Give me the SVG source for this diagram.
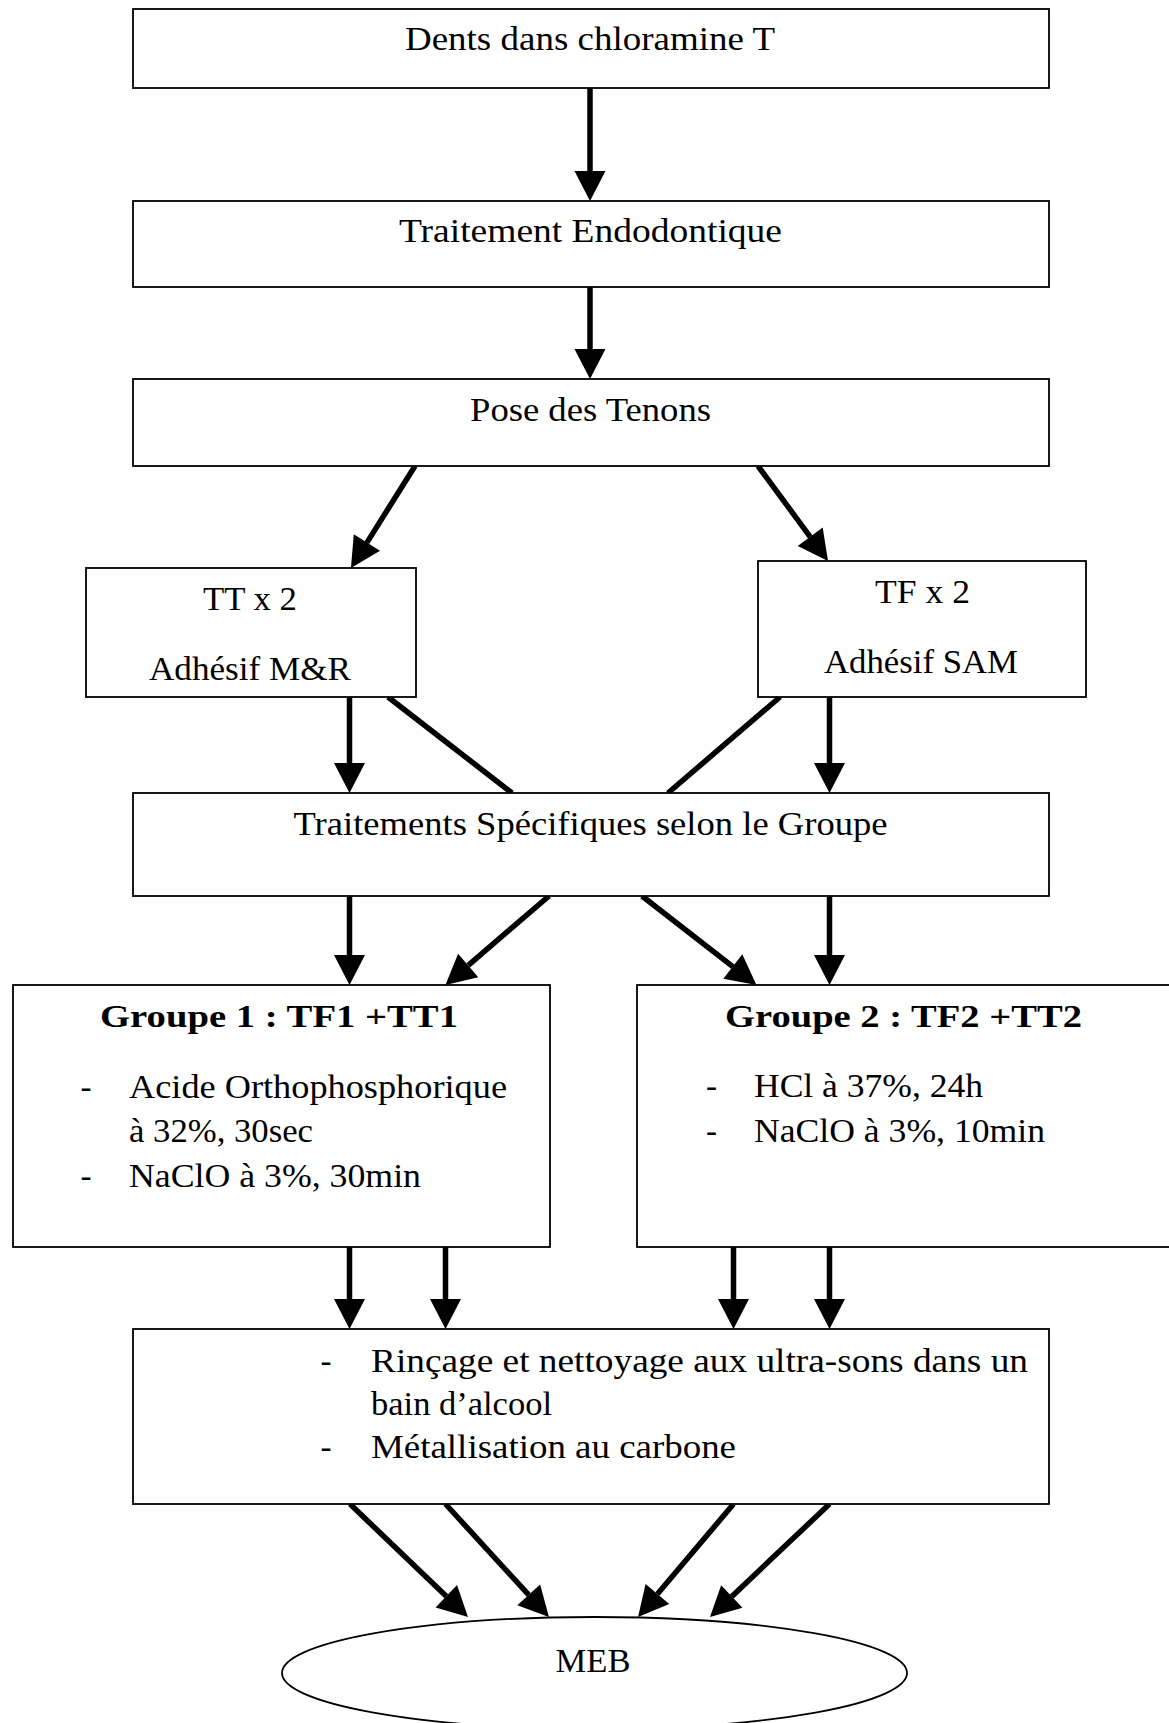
<svg xmlns="http://www.w3.org/2000/svg" width="1169" height="1723" viewBox="0 0 1169 1723">
<defs>
<style>
.box{fill:#fff;stroke:#000;stroke-width:1.8}
.t{font-family:"Liberation Serif","Times New Roman",serif;font-size:33px;fill:#000}
.c{text-anchor:middle}
.b{font-weight:bold;font-size:32px}
.ln{stroke:#000;stroke-width:5.5;fill:none}
.ar{stroke:#000;stroke-width:5.5;fill:none;marker-end:url(#ah)}
</style>
<marker id="ah" markerUnits="userSpaceOnUse" markerWidth="31" markerHeight="31" refX="0" refY="15.5" orient="auto" overflow="visible">
<path d="M0,0 L30,15.5 L0,31 Z" fill="#000"/>
</marker>
</defs>
<rect width="1169" height="1723" fill="#fff"/>

<g id="connectors">
<line class="ar" x1="590" y1="88" x2="590" y2="171"/>
<line class="ar" x1="590" y1="287" x2="590" y2="349"/>
<line class="ar" x1="415" y1="466" x2="366.9" y2="542.6"/>
<line class="ar" x1="758" y1="466" x2="810.2" y2="536.8"/>
<line class="ar" x1="349.5" y1="697" x2="349.5" y2="763"/>
<line class="ln" x1="388" y1="697" x2="512" y2="793"/>
<line class="ln" x1="780" y1="697" x2="668" y2="793"/>
<line class="ar" x1="829.5" y1="697" x2="829.5" y2="763"/>
<line class="ar" x1="349.5" y1="896" x2="349.5" y2="955"/>
<line class="ar" x1="549" y1="896" x2="468.2" y2="965.4"/>
<line class="ar" x1="642" y1="896" x2="732.8" y2="966.6"/>
<line class="ar" x1="829.5" y1="896" x2="829.5" y2="955"/>
<line class="ar" x1="349.5" y1="1247" x2="349.5" y2="1299"/>
<line class="ar" x1="445.5" y1="1247" x2="445.5" y2="1299"/>
<line class="ar" x1="733.5" y1="1247" x2="733.5" y2="1299"/>
<line class="ar" x1="829.5" y1="1247" x2="829.5" y2="1299"/>
<line class="ar" x1="350" y1="1504" x2="446.3" y2="1596.3"/>
<line class="ar" x1="445.5" y1="1504" x2="528.7" y2="1594.9"/>
<line class="ar" x1="733.5" y1="1504" x2="657.4" y2="1594.1"/>
<line class="ar" x1="829.5" y1="1504" x2="731.8" y2="1596.4"/>
</g>

<g id="n1">
<rect class="box" x="133" y="9" width="916" height="79"/>
<text class="t c" x="590" y="50" textLength="370" lengthAdjust="spacingAndGlyphs">Dents dans chloramine T</text>
</g>
<g id="n2">
<rect class="box" x="133" y="201" width="916" height="86"/>
<text class="t c" x="590.5" y="242" textLength="383" lengthAdjust="spacingAndGlyphs">Traitement Endodontique</text>
</g>
<g id="n3">
<rect class="box" x="133" y="379" width="916" height="87"/>
<text class="t c" x="590.5" y="421" textLength="241" lengthAdjust="spacingAndGlyphs">Pose des Tenons</text>
</g>
<g id="n4">
<rect class="box" x="86" y="568" width="330" height="129"/>
<text class="t c" x="250" y="610" textLength="94" lengthAdjust="spacingAndGlyphs">TT x 2</text>
<text class="t c" x="250" y="680" textLength="202" lengthAdjust="spacingAndGlyphs">Adhésif M&amp;R</text>
</g>
<g id="n5">
<rect class="box" x="758" y="561" width="328" height="136"/>
<text class="t c" x="922.5" y="603" textLength="95" lengthAdjust="spacingAndGlyphs">TF x 2</text>
<text class="t c" x="921" y="673" textLength="194" lengthAdjust="spacingAndGlyphs">Adhésif SAM</text>
</g>
<g id="n6">
<rect class="box" x="133" y="793" width="916" height="103"/>
<text class="t c" x="590.5" y="835" textLength="594" lengthAdjust="spacingAndGlyphs">Traitements Spécifiques selon le Groupe</text>
</g>
<g id="n7">
<rect class="box" x="13" y="985" width="537" height="262"/>
<text class="t b" x="100" y="1027" textLength="358" lengthAdjust="spacingAndGlyphs">Groupe 1 : TF1 +TT1</text>
<text class="t c" x="86" y="1098">-</text>
<text class="t" x="129" y="1098" textLength="378" lengthAdjust="spacingAndGlyphs">Acide Orthophosphorique</text>
<text class="t" x="129" y="1142" textLength="184" lengthAdjust="spacingAndGlyphs">à 32%, 30sec</text>
<text class="t c" x="86" y="1187">-</text>
<text class="t" x="129" y="1187" textLength="292" lengthAdjust="spacingAndGlyphs">NaClO à 3%, 30min</text>
</g>
<g id="n8">
<rect class="box" x="637" y="985" width="600" height="262"/>
<text class="t b" x="725" y="1027" textLength="357" lengthAdjust="spacingAndGlyphs">Groupe 2 : TF2 +TT2</text>
<text class="t c" x="711.5" y="1097">-</text>
<text class="t" x="754" y="1097" textLength="229" lengthAdjust="spacingAndGlyphs">HCl à 37%, 24h</text>
<text class="t c" x="711.5" y="1142">-</text>
<text class="t" x="754" y="1142" textLength="291" lengthAdjust="spacingAndGlyphs">NaClO à 3%, 10min</text>
</g>
<g id="n9">
<rect class="box" x="133" y="1329" width="916" height="175"/>
<text class="t c" x="326" y="1372">-</text>
<text class="t" x="371" y="1372" textLength="657" lengthAdjust="spacingAndGlyphs">Rinçage et nettoyage aux ultra-sons dans un</text>
<text class="t" x="371" y="1415" textLength="181" lengthAdjust="spacingAndGlyphs">bain d’alcool</text>
<text class="t c" x="326" y="1458">-</text>
<text class="t" x="371" y="1458" textLength="365" lengthAdjust="spacingAndGlyphs">Métallisation au carbone</text>
</g>
<g id="n10">
<ellipse class="box" cx="594.5" cy="1673" rx="312.5" ry="56"/>
<text class="t c" x="593" y="1672" textLength="75" lengthAdjust="spacingAndGlyphs">MEB</text>
</g>
</svg>
